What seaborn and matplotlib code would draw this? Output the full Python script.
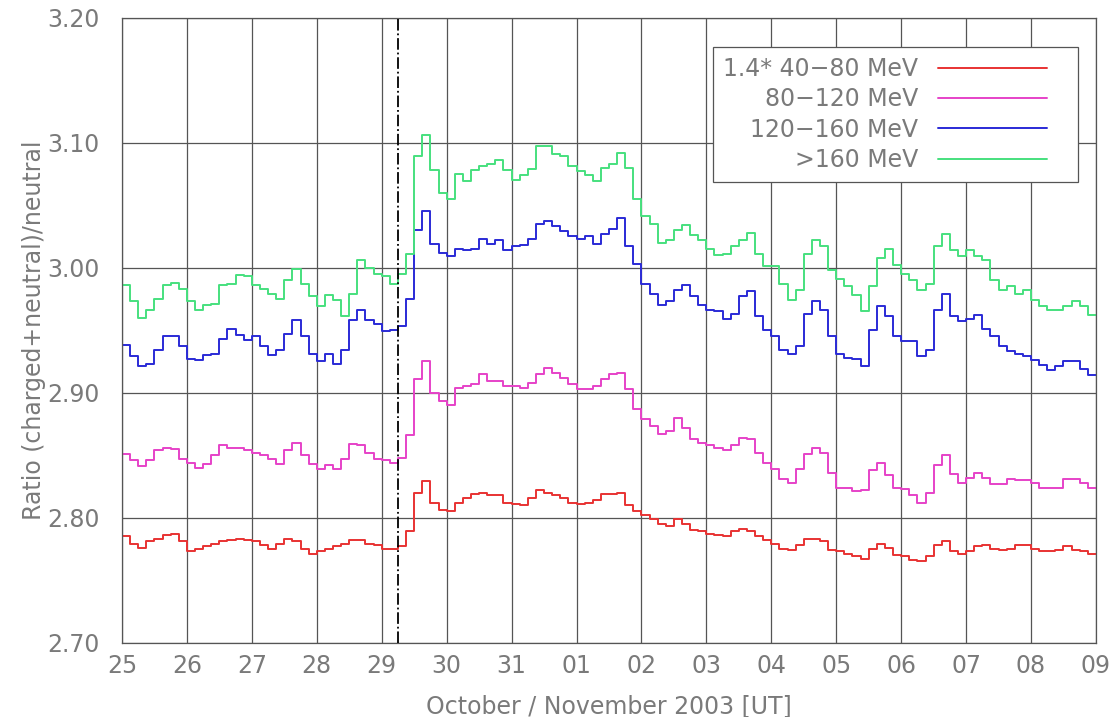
import numpy as np
import pandas as pd
import matplotlib
matplotlib.use("Agg")
import matplotlib.pyplot as plt
from matplotlib.legend_handler import HandlerLine2D
import seaborn as sns

# --- data: 3-hourly ratios, 25 Oct 00 UT .. 09 Nov 00 UT 2003 (8 values per day) ---
day_labels = ["25", "26", "27", "28", "29", "30", "31", "01",
              "02", "03", "04", "05", "06", "07", "08", "09"]
steps_per_day = 8
shock_time = 4.25  # 29 Oct, 06 UT (days after 25 Oct 00 UT)

ratio_40_80 = [
    2.785, 2.779, 2.776, 2.781, 2.783, 2.786, 2.787, 2.781,
    2.773, 2.775, 2.777, 2.779, 2.781, 2.782, 2.783, 2.782,
    2.781, 2.778, 2.775, 2.779, 2.783, 2.781, 2.775, 2.771,
    2.773, 2.775, 2.777, 2.779, 2.782, 2.782, 2.779, 2.778,
    2.775, 2.775, 2.777, 2.789, 2.820, 2.829, 2.812, 2.806,
    2.805, 2.812, 2.816, 2.819, 2.820, 2.818, 2.818, 2.812,
    2.811, 2.810, 2.816, 2.822, 2.820, 2.818, 2.816, 2.812,
    2.811, 2.812, 2.814, 2.819, 2.819, 2.820, 2.810, 2.805,
    2.802, 2.799, 2.795, 2.793, 2.799, 2.795, 2.790, 2.789,
    2.787, 2.786, 2.785, 2.789, 2.791, 2.789, 2.785, 2.782,
    2.779, 2.775, 2.774, 2.778, 2.783, 2.783, 2.781, 2.774,
    2.773, 2.771, 2.769, 2.767, 2.775, 2.779, 2.776, 2.770,
    2.769, 2.766, 2.765, 2.769, 2.778, 2.781, 2.773, 2.771,
    2.773, 2.777, 2.778, 2.775, 2.774, 2.775, 2.778, 2.778,
    2.775, 2.773, 2.773, 2.774, 2.777, 2.774, 2.773, 2.771,
]
ratio_80_120 = [
    2.851, 2.846, 2.841, 2.846, 2.854, 2.856, 2.855, 2.847,
    2.844, 2.840, 2.843, 2.850, 2.858, 2.856, 2.856, 2.854,
    2.852, 2.850, 2.847, 2.843, 2.854, 2.860, 2.850, 2.843,
    2.839, 2.842, 2.839, 2.847, 2.859, 2.858, 2.852, 2.847,
    2.846, 2.844, 2.848, 2.866, 2.911, 2.925, 2.900, 2.893,
    2.890, 2.904, 2.905, 2.907, 2.915, 2.909, 2.909, 2.905,
    2.905, 2.904, 2.908, 2.915, 2.920, 2.916, 2.912, 2.907,
    2.903, 2.903, 2.905, 2.911, 2.915, 2.916, 2.903, 2.887,
    2.879, 2.873, 2.867, 2.869, 2.880, 2.872, 2.863, 2.860,
    2.858, 2.856, 2.854, 2.858, 2.864, 2.863, 2.852, 2.844,
    2.839, 2.831, 2.828, 2.839, 2.851, 2.856, 2.852, 2.836,
    2.824, 2.824, 2.821, 2.822, 2.838, 2.844, 2.834, 2.824,
    2.823, 2.818, 2.812, 2.820, 2.842, 2.850, 2.835, 2.828,
    2.832, 2.836, 2.832, 2.827, 2.827, 2.831, 2.830, 2.830,
    2.828, 2.824, 2.824, 2.824, 2.831, 2.831, 2.828, 2.824,
]
ratio_120_160 = [
    2.938, 2.929, 2.921, 2.923, 2.934, 2.945, 2.945, 2.937,
    2.927, 2.926, 2.930, 2.931, 2.943, 2.951, 2.946, 2.942,
    2.945, 2.937, 2.930, 2.934, 2.947, 2.958, 2.945, 2.931,
    2.925, 2.931, 2.923, 2.934, 2.958, 2.966, 2.958, 2.955,
    2.949, 2.950, 2.953, 2.975, 3.030, 3.045, 3.019, 3.012,
    3.009, 3.015, 3.014, 3.015, 3.023, 3.019, 3.022, 3.014,
    3.017, 3.018, 3.023, 3.035, 3.037, 3.033, 3.029, 3.025,
    3.023, 3.025, 3.019, 3.027, 3.031, 3.040, 3.017, 3.003,
    2.987, 2.979, 2.970, 2.973, 2.982, 2.986, 2.977, 2.970,
    2.966, 2.965, 2.959, 2.963, 2.977, 2.981, 2.961, 2.950,
    2.945, 2.934, 2.931, 2.937, 2.963, 2.973, 2.966, 2.945,
    2.931, 2.928, 2.927, 2.921, 2.950, 2.969, 2.961, 2.945,
    2.941, 2.941, 2.929, 2.934, 2.966, 2.979, 2.961, 2.957,
    2.959, 2.962, 2.951, 2.945, 2.937, 2.933, 2.931, 2.929,
    2.926, 2.922, 2.918, 2.921, 2.925, 2.925, 2.919, 2.914,
]
ratio_160 = [
    2.986, 2.973, 2.960, 2.966, 2.975, 2.986, 2.988, 2.983,
    2.973, 2.966, 2.970, 2.971, 2.986, 2.987, 2.994, 2.993,
    2.986, 2.983, 2.979, 2.975, 2.990, 2.999, 2.987, 2.977,
    2.969, 2.978, 2.974, 2.961, 2.979, 3.006, 3.000, 2.995,
    2.993, 2.987, 2.995, 3.011, 3.089, 3.106, 3.078, 3.060,
    3.055, 3.075, 3.069, 3.078, 3.081, 3.083, 3.086, 3.078,
    3.070, 3.074, 3.079, 3.097, 3.097, 3.091, 3.089, 3.081,
    3.077, 3.074, 3.069, 3.080, 3.083, 3.092, 3.080, 3.055,
    3.041, 3.035, 3.020, 3.022, 3.030, 3.034, 3.026, 3.022,
    3.015, 3.010, 3.011, 3.017, 3.022, 3.028, 3.011, 3.001,
    3.001, 2.987, 2.974, 2.982, 3.011, 3.022, 3.017, 2.998,
    2.991, 2.985, 2.978, 2.965, 2.985, 3.008, 3.015, 3.002,
    2.995, 2.990, 2.982, 2.987, 3.017, 3.027, 3.014, 3.009,
    3.014, 3.009, 3.006, 2.990, 2.982, 2.985, 2.979, 2.982,
    2.974, 2.969, 2.966, 2.966, 2.969, 2.973, 2.969, 2.962,
]

series_labels = ["1.4* 40\u221280 MeV", "80\u2212120 MeV", "120\u2212160 MeV", ">160 MeV"]
series_values = [ratio_40_80, ratio_80_120, ratio_120_160, ratio_160]
colors = ["#e83232", "#e642c8", "#2a2ad6", "#46e07e"]

# long table for seaborn; last value repeated at 09 Nov so the final step is drawn
frames = []
for label, vals in zip(series_labels, series_values):
    vals = np.asarray(vals)
    t = np.arange(len(vals) + 1) / steps_per_day
    frames.append(pd.DataFrame({"t": t, "ratio": np.append(vals, vals[-1]), "band": label}))
df = pd.concat(frames, ignore_index=True)


class ShortLineHandler(HandlerLine2D):
    # legend line that leaves some blank space before the frame (IDL look)
    def get_xdata(self, legend, xdescent, ydescent, width, height, fontsize):
        x = np.array([-xdescent, -xdescent + width * 0.84])
        return x, x


sns.set_theme(style="white")
text_gray = "#7a7a7a"
plt.rcParams["font.family"] = ["DejaVu Sans"]
plt.rcParams["text.color"] = text_gray
plt.rcParams["axes.labelcolor"] = text_gray
plt.rcParams["xtick.color"] = text_gray
plt.rcParams["ytick.color"] = text_gray

fig = plt.figure(figsize=(11.14, 7.17), dpi=100)
ax = fig.add_axes([0.1095, 0.1036, 0.8743, 0.8717])

sns.lineplot(data=df, x="t", y="ratio", hue="band", hue_order=series_labels,
             palette=colors, estimator=None, sort=False, drawstyle="steps-post",
             linewidth=1.4, legend=False, ax=ax)

# shock arrival marker
ax.axvline(shock_time, color="black", linestyle="-.", linewidth=1.3, zorder=3)

ax.set_xlim(0, len(day_labels) - 1)
ax.set_ylim(2.70, 3.20)
ax.set_xticks(np.arange(len(day_labels)))
ax.set_xticklabels(day_labels)
ax.set_yticks(np.arange(2.70, 3.201, 0.10))
ax.set_yticklabels([f"{v:.2f}" for v in np.arange(2.70, 3.201, 0.10)])
ax.tick_params(axis="x", length=0, pad=8, labelsize=17)
ax.tick_params(axis="y", length=0, pad=16, labelsize=17)
ax.grid(True, color="#555555", linewidth=0.9)
for sp in ax.spines.values():
    sp.set_color("#555555")
    sp.set_linewidth(0.9)

ax.set_xlabel("October / November 2003 [UT]", fontsize=17, labelpad=12)
ax.set_ylabel("Ratio (charged+neutral)/neutral", fontsize=17, labelpad=1)

handles = ax.get_lines()[:4]
leg = ax.legend(handles, series_labels, loc="upper right", bbox_to_anchor=(0.9815, 0.953),
                borderaxespad=0, markerfirst=False, handlelength=5.5, handletextpad=0.85,
                labelspacing=0.27, fontsize=17, frameon=True, fancybox=False,
                framealpha=1, edgecolor="#555555", borderpad=0.42,
                handler_map={h: ShortLineHandler() for h in handles})
leg.get_frame().set_linewidth(0.9)
for txt in leg.get_texts():
    txt.set_color(text_gray)

fig.savefig("out.png", dpi=100)
